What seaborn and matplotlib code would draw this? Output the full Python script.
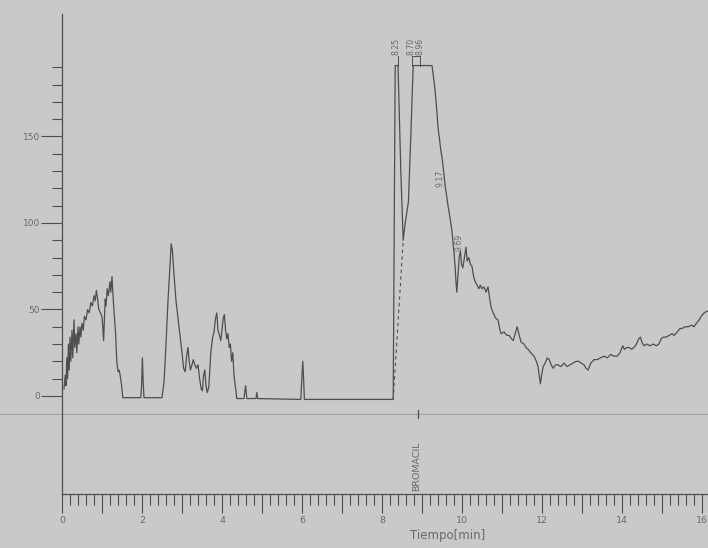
import matplotlib
matplotlib.use("Agg")
import matplotlib.pyplot as plt
import pandas as pd
import seaborn as sns
from matplotlib.ticker import FixedLocator, FuncFormatter

# Chromatogram trace: retention time (min) and detector signal
time_min = [
    0.05, 0.08, 0.10, 0.12, 0.14, 0.16, 0.18, 0.20, 0.22, 0.25, 0.27, 0.30, 0.32, 0.35,
    0.37, 0.40, 0.42, 0.45, 0.47, 0.50, 0.53, 0.56, 0.60, 0.64, 0.68, 0.72, 0.76, 0.80,
    0.83, 0.86, 0.89, 0.92, 0.96, 1.00, 1.02, 1.04, 1.06, 1.08, 1.10, 1.13, 1.16, 1.20,
    1.22, 1.25, 1.28, 1.31, 1.34, 1.37, 1.40, 1.43, 1.46, 1.49, 1.52,
    1.97, 1.99, 2.01, 2.03, 2.05, 2.50,
    2.55, 2.60, 2.65, 2.70, 2.73, 2.76, 2.80, 2.85, 2.90, 2.95, 3.00, 3.04, 3.08, 3.12,
    3.15, 3.18, 3.21, 3.25, 3.28, 3.32, 3.36, 3.40, 3.44, 3.48, 3.51, 3.54, 3.57, 3.60,
    3.63, 3.67, 3.72, 3.76, 3.80, 3.84, 3.87, 3.90, 3.94, 3.97, 4.00, 4.03, 4.06, 4.09,
    4.12, 4.15, 4.18, 4.21, 4.24, 4.27, 4.30, 4.33, 4.37,
    4.55, 4.59, 4.62, 4.85, 4.87, 4.89, 5.97, 6.00, 6.02, 6.04, 6.06, 8.28,
    8.33, 8.40, 8.47, 8.53, 8.58, 8.66, 8.72, 8.78, 9.25,
    9.30, 9.33, 9.37, 9.40, 9.43, 9.47, 9.50, 9.55, 9.58, 9.62, 9.65, 9.70, 9.75, 9.78,
    9.80, 9.83, 9.85, 9.87, 9.90, 9.93, 9.96, 9.99, 10.02, 10.06, 10.10, 10.13, 10.17,
    10.21, 10.25, 10.29, 10.33, 10.38, 10.42, 10.46, 10.50, 10.55, 10.60, 10.65, 10.70,
    10.73, 10.78, 10.84, 10.90, 10.95, 10.98, 11.05, 11.12, 11.18, 11.24, 11.28, 11.33,
    11.38, 11.43, 11.48, 11.55, 11.60, 11.65, 11.72, 11.80, 11.86, 11.90, 11.93, 11.96,
    11.99, 12.03, 12.08, 12.13, 12.18, 12.23, 12.28, 12.34, 12.40, 12.47, 12.55, 12.62,
    12.70, 12.78, 12.85, 12.92, 12.98, 13.05, 13.10, 13.15, 13.22, 13.30, 13.38, 13.46,
    13.55, 13.63, 13.72, 13.80, 13.88, 13.95, 14.02, 14.06, 14.12, 14.18, 14.24, 14.30,
    14.36, 14.42, 14.46, 14.50, 14.55, 14.62, 14.70, 14.78, 14.86, 14.92, 14.98, 15.03,
    15.10, 15.18, 15.25, 15.30, 15.38, 15.45, 15.50, 15.58, 15.66, 15.74, 15.80, 15.86,
    15.93, 15.98, 16.05, 16.12, 16.20,
]
signal = [
    4, 12, 6, 22, 10, 30, 15, 34, 20, 38, 22, 44, 28, 36,
    25, 40, 30, 40, 34, 42, 38, 46, 44, 50, 48, 54, 52, 58,
    55, 61, 56, 50, 48, 46, 40, 32, 44, 56, 52, 62, 58, 66,
    60, 69, 56, 46, 36, 20, 14, 15, 11, 6, -1,
    -1, 6, 22, 8, -1, -1,
    8, 30, 55, 75, 88, 84, 70, 55, 45, 35, 25, 16, 14, 24,
    28, 20, 15, 18, 21, 18, 16, 18, 10, 4, 3, 12, 15, 6,
    2, 5, 25, 33, 37, 45, 48, 38, 35, 32, 38, 45, 47, 38,
    33, 36, 28, 30, 20, 25, 12, 6, -1.5,
    -1.5, 6, -1.5, -1.5, 2, -1.5, -2, 12, 20, 10, -2, -2,
    191, 191, 130, 90, 100, 112, 150, 191, 191,
    182, 176, 165, 155, 150, 142, 138, 128, 121, 115, 110, 103, 95, 88,
    83, 74, 66, 60, 70, 80, 84, 76, 74, 80, 86, 78, 80,
    76, 75, 69, 66, 64, 62, 64, 62, 63, 60, 63, 55,
    51, 48, 45, 44, 38, 36, 37, 35, 35, 33, 32, 36,
    40, 35, 31, 30, 28, 27, 25, 23, 20, 17, 12, 7,
    12, 17, 19, 22, 21, 18, 16, 18, 18, 17, 19, 17,
    18, 19, 20, 20, 19, 18, 16, 15, 19, 21, 21, 22,
    23, 22, 24, 23, 23, 25, 29, 27, 28, 28, 27, 28,
    30, 33, 34, 31, 29, 30, 29, 30, 29, 30, 33, 34,
    34, 35, 36, 35, 37, 39, 39, 40, 40, 41, 40, 42,
    44, 46, 48, 49, 49,
]

# Integrator annotations (retention times of detected peaks)
peak_labels = ["8.25", "8.70", "8.96", "9.17", "9.69"]
peak_label_x = [8.35, 8.73, 8.95, 9.45, 9.93]
peak_label_y = [197, 197, 197, 121, 84]

y_major = [0, 50, 100, 150]
y_minor = [10, 20, 30, 40, 60, 70, 80, 90, 110, 120, 130, 140, 160, 170, 180, 190]
x_major = list(range(0, 17))
x_minor = [i / 5 for i in range(0, 81)]

compound_name = "BROMACIL"
compound_time = 8.88
x_label = "Tiempo[min]"

PAPER = "#c9c9c9"
INK = "#4e4e4e"
TEXT = "#6a6a6a"

sns.set_theme(style="white")
plt.rcParams["font.family"] = ["DejaVu Sans"]

fig = plt.figure(figsize=(7.08, 5.48), dpi=100)
fig.patch.set_facecolor(PAPER)
ax = fig.add_axes([0, 0, 1, 1])
ax.set_facecolor(PAPER)

x_lo, x_hi = -1.55, 16.15
y_lo, y_hi = -87.9, 228.9
x_axis_level = -56.6
ax.set_xlim(x_lo, x_hi)
ax.set_ylim(y_lo, y_hi)

trace = pd.DataFrame({"t": time_min, "s": signal})
sns.lineplot(data=trace, x="t", y="s", ax=ax, color=INK, linewidth=0.9,
             estimator=None, sort=False)

# baseline drop line between the first two peaks
ax.plot([8.28, 8.53], [-2, 90], color=INK, linewidth=0.8, linestyle=(0, (3, 3)))

# faint trace separator line below the chromatogram
ax.axhline(-10.4, color="#a4a4a4", linewidth=0.8)

# peak annotations
for lbl, lx, ly in zip(peak_labels, peak_label_x, peak_label_y):
    ax.text(lx, ly, lbl, rotation=90, ha="center", va="bottom",
            fontsize=5.6, color=TEXT)
for tx in (8.40, 8.76, 8.96):
    ax.plot([tx, tx], [191, 196.5], color=INK, linewidth=0.7)
ax.plot([8.76, 8.96], [196.5, 196.5], color=INK, linewidth=0.7)

# compound marker and name
ax.plot([compound_time + 0.03, compound_time + 0.03], [-13, -8], color=INK, linewidth=0.9)
ax.text(compound_time - 0.02, x_axis_level + 1.5, compound_name, rotation=90,
        ha="center", va="bottom", fontsize=6.8, color=TEXT)

# axes drawn as a strip-chart frame
for side in ("top", "right"):
    ax.spines[side].set_visible(False)
ax.spines["left"].set_position(("data", 0))
ax.spines["bottom"].set_position(("data", x_axis_level))
ax.spines["left"].set_bounds(x_axis_level, 221)
ax.spines["bottom"].set_bounds(0, x_hi)
for side in ("left", "bottom"):
    ax.spines[side].set_color(INK)
    ax.spines[side].set_linewidth(0.9)

ax.yaxis.set_major_locator(FixedLocator(y_major))
ax.yaxis.set_minor_locator(FixedLocator(y_minor))
ax.xaxis.set_major_locator(FixedLocator(x_major))
ax.xaxis.set_minor_locator(FixedLocator(x_minor))
ax.xaxis.set_major_formatter(FuncFormatter(
    lambda v, p: f"{int(round(v))}" if int(round(v)) % 2 == 0 else ""))

ax.tick_params(axis="y", which="major", left=True, direction="out", length=15, width=0.8,
               color=INK, labelcolor=TEXT, labelsize=6.5, pad=1)
ax.tick_params(axis="y", which="minor", left=True, direction="out", length=7, width=0.8,
               color=INK)
ax.tick_params(axis="x", which="major", bottom=True, direction="out", length=14, width=0.8,
               color=INK, labelcolor=TEXT, labelsize=6.8, pad=2)
ax.tick_params(axis="x", which="minor", bottom=True, direction="out", length=8, width=0.8,
               color=INK)

ax.text(9.63, -80.5, x_label, ha="center", va="center", fontsize=8.5, color=TEXT)
ax.set_xlabel("")
ax.set_ylabel("")

fig.savefig("out.png", dpi=100, facecolor=PAPER)
